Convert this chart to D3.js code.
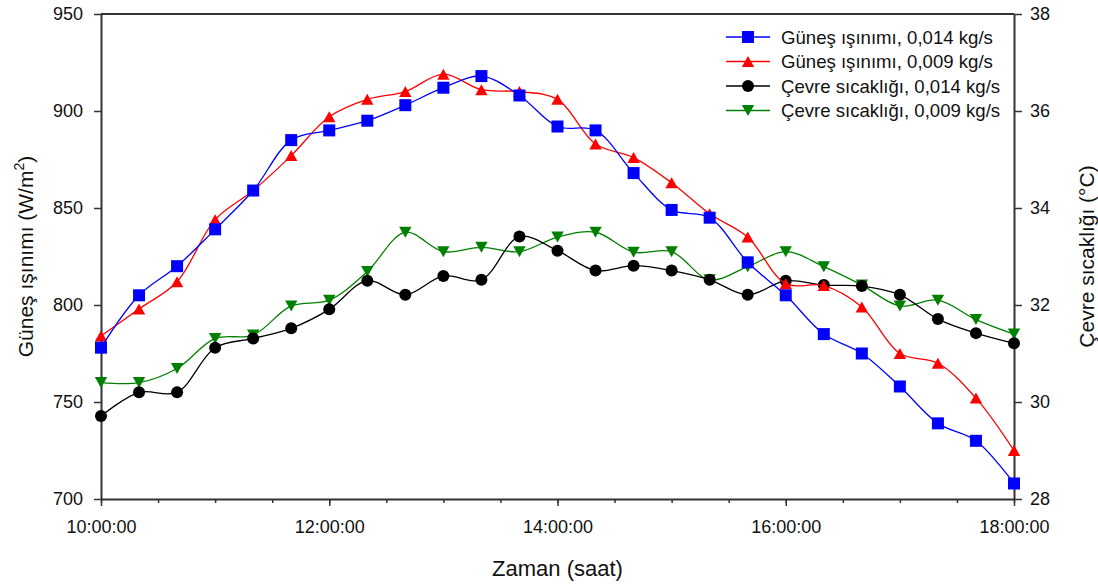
<!DOCTYPE html>
<html>
<head>
<meta charset="utf-8">
<script src="https://cdn.jsdelivr.net/npm/d3@7"></script>
<style>
  body { margin: 0; background: #fff; }
  text { font-family: "Liberation Sans", Arial, sans-serif; fill: #111; }
</style>
</head>
<body>
<script>
var width = 1098, height = 587;

// data, one point every 20 minutes
var times = ["10:00:00","10:20:00","10:40:00","11:00:00","11:20:00","11:40:00","12:00:00",
  "12:20:00","12:40:00","13:00:00","13:20:00","13:40:00","14:00:00","14:20:00","14:40:00",
  "15:00:00","15:20:00","15:40:00","16:00:00","16:20:00","16:40:00","17:00:00","17:20:00",
  "17:40:00","18:00:00"];
var gunes014 = [778, 805, 820, 839, 859, 885, 890, 895, 903, 912, 918, 908, 892, 890, 868,
  849, 845, 822, 805, 785, 775, 758, 739, 730, 708];
var gunes009 = [784, 798, 812, 844, 859, 877, 897, 906, 910, 919, 911, 910, 906, 883, 876,
  863, 847, 835, 811, 810, 799, 775, 770, 752, 725];
var cevre014 = [29.71, 30.2, 30.2, 31.12, 31.31, 31.52, 31.91, 32.5, 32.21, 32.6, 32.52, 33.41,
  33.12, 32.71, 32.81, 32.71, 32.52, 32.21, 32.5, 32.41, 32.39, 32.21, 31.71, 31.42, 31.21];
var cevre009 = [30.4, 30.4, 30.69, 31.31, 31.38, 31.98, 32.1, 32.69, 33.5, 33.1, 33.19, 33.1,
  33.4, 33.5, 33.09, 33.1, 32.52, 32.79, 33.1, 32.79, 32.41, 31.98, 32.1, 31.7, 31.4];
var leftTicks = [700, 750, 800, 850, 900, 950];
var rightTicks = [28, 30, 32, 34, 36, 38];
var seriesNames = ["Güneş ışınımı, 0,014 kg/s", "Güneş ışınımı, 0,009 kg/s",
  "Çevre sıcaklığı, 0,014 kg/s", "Çevre sıcaklığı, 0,009 kg/s"];

var parse = d3.timeParse("%H:%M:%S");
var dates = times.map(parse);

var margin = {left: 101, right: 84, top: 14, bottom: 88};
var x0 = margin.left, x1 = width - margin.right, y0 = height - margin.bottom, y1 = margin.top;

var svg = d3.select("body").append("svg")
    .attr("width", width)
    .attr("height", height);

var x = d3.scaleTime().domain([parse("10:00:00"), parse("18:00:00")]).range([x0, x1]);
var yL = d3.scaleLinear().domain([700, 950]).range([y0, y1]);
var yR = d3.scaleLinear().domain([28, 38]).range([y0, y1]);

// top frame line
svg.append("line").attr("x1", x0).attr("x2", x1).attr("y1", y1).attr("y2", y1)
    .attr("stroke", "#333").attr("stroke-width", 2);

// x axis: minor ticks every 30 min, major every 2 h
svg.append("g").attr("transform", "translate(0," + y0 + ")")
    .call(d3.axisBottom(x).ticks(d3.timeMinute.every(30)).tickSize(4).tickFormat(""))
    .call(g => g.select(".domain").remove())
    .selectAll("line").attr("stroke", "#333").attr("stroke-width", 1.5);

var xAxis = svg.append("g").attr("transform", "translate(0," + y0 + ")")
    .call(d3.axisBottom(x).ticks(d3.timeHour.every(2)).tickSize(7).tickSizeOuter(0)
      .tickPadding(14).tickFormat(d3.timeFormat("%H:%M:%S")));

var yAxisL = svg.append("g").attr("transform", "translate(" + x0 + ",0)")
    .call(d3.axisLeft(yL).tickValues(leftTicks).tickSize(7).tickSizeOuter(0).tickPadding(11));

var yAxisR = svg.append("g").attr("transform", "translate(" + x1 + ",0)")
    .call(d3.axisRight(yR).tickValues(rightTicks).tickSize(8).tickSizeOuter(0).tickPadding(8));

[xAxis, yAxisL, yAxisR].forEach(function(g) {
  g.select(".domain").attr("stroke", "#333").attr("stroke-width", 2);
  g.selectAll(".tick line").attr("stroke", "#333").attr("stroke-width", 1.5);
  g.selectAll("text").attr("font-size", 18)
    .attr("font-family", "'Liberation Sans', Arial, sans-serif").attr("fill", "#111");
});

// axis titles
svg.append("text").attr("x", (x0 + x1) / 2).attr("y", 576)
    .attr("text-anchor", "middle").attr("font-size", 22).text("Zaman (saat)");

var lt = svg.append("text").attr("transform", "translate(33," + ((y0 + y1) / 2) + ") rotate(-90)")
    .attr("text-anchor", "middle").attr("font-size", 21);
lt.append("tspan").text("Güneş ışınımı (W/m");
lt.append("tspan").attr("font-size", 14).attr("dy", -9).text("2");
lt.append("tspan").attr("dy", 9).text(")");

svg.append("text").attr("transform", "translate(1094," + ((y0 + y1) / 2) + ") rotate(-90)")
    .attr("text-anchor", "middle").attr("font-size", 21).text("Çevre sıcaklığı (°C)");

// markers
function marker(g, type, color) {
  if (type === "square") {
    g.append("rect").attr("x", -6).attr("y", -6).attr("width", 12).attr("height", 12).attr("fill", color);
  } else if (type === "up") {
    g.append("path").attr("d", "M0,-5.5L6.2,5.5L-6.2,5.5Z").attr("fill", color);
  } else if (type === "down") {
    g.append("path").attr("d", "M0,5.5L6.2,-5.5L-6.2,-5.5Z").attr("fill", color);
  } else {
    g.append("circle").attr("r", 6).attr("fill", color);
  }
}

var series = [
  {values: gunes014, scale: yL, color: "#0000ff", type: "square"},
  {values: gunes009, scale: yL, color: "#ff0000", type: "up"},
  {values: cevre014, scale: yR, color: "#000000", type: "circle"},
  {values: cevre009, scale: yR, color: "#008000", type: "down"}
];

var plot = svg.append("g");
// draw lines first (temperature behind), markers after
series.slice().reverse().forEach(function(s) {
  var line = d3.line()
      .x(function(d, i) { return x(dates[i]); })
      .y(function(d) { return s.scale(d); })
      .curve(d3.curveCatmullRom.alpha(0.5));
  var g = plot.append("g");
  g.append("path").datum(s.values).attr("d", line)
      .attr("fill", "none").attr("stroke", s.color).attr("stroke-width", 1.3);
  s.values.forEach(function(v, i) {
    marker(g.append("g").attr("transform", "translate(" + x(dates[i]) + "," + s.scale(v) + ")"),
      s.type, s.color);
  });
});

// legend
var legend = svg.append("g").attr("transform", "translate(726,37)");
series.forEach(function(s, i) {
  var row = legend.append("g").attr("transform", "translate(0," + (i * 24.5) + ")");
  row.append("line").attr("x1", 0).attr("x2", 44).attr("stroke", s.color).attr("stroke-width", 1.3);
  marker(row.append("g").attr("transform", "translate(22,0)"), s.type, s.color);
  row.append("text").attr("x", 55).attr("dy", "0.35em").attr("font-size", 18.6).text(seriesNames[i]);
});
</script>
</body>
</html>
